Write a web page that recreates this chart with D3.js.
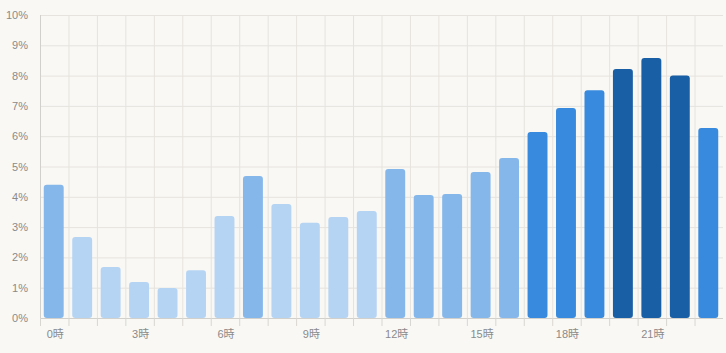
<!DOCTYPE html>
<html>
<head>
<meta charset="utf-8">
<script src="https://cdn.jsdelivr.net/npm/d3@7"></script>
<style>
	body { margin: 0; background: #f9f8f5; }
	svg { display: block; }
	svg text { fill: #8a8a8a; font-size: 11px; font-family: "Liberation Sans", Arial, "Noto Sans CJK JP", sans-serif; }
</style>
</head>
<body>
<svg id="chart" width="726" height="353"></svg>
<script>
// hour of day, share of total (%)
let hours = d3.range(24);
let shares = [4.4, 2.67, 1.68, 1.19, 0.99, 1.58, 3.37, 4.69, 3.76, 3.14, 3.33, 3.53,
	4.92, 4.06, 4.09, 4.82, 5.28, 6.14, 6.93, 7.52, 8.22, 8.58, 8.0, 6.27];
let yTicks = d3.range(0, 11);
let xLabelHours = [0, 3, 6, 9, 12, 15, 18, 21];

function drawBars(holder){
	let margin = {"left": 40, "top": 15, "bottom": 35, "right": 3};
	let width = 726;
	let height = 353;

	let data = hours.map((h, i) => ({hour: h, value: shares[i]}));

	let scaleX = d3.scaleBand()
		.domain(hours)
		.range([margin.left, width - margin.right])
		.paddingInner(0.3)
		.paddingOuter(0.15);

	let scaleY = d3.scaleLinear()
		.domain([0, 10])
		.range([height - margin.bottom, margin.top]);

	let colour = d3.scaleThreshold()
		.domain([4, 6, 8])
		.range(["#b5d4f4", "#85b7eb", "#378add", "#185fa5"]);

	let svg = d3.select(holder);
	let step = scaleX.step();
	let x0 = scaleX.range()[0];

	// vertical grid at band edges
	svg.append("g").selectAll("line")
		.data(d3.range(1, 24))
		.join("line")
		.attr("x1", d => x0 + d * step + 0.5)
		.attr("x2", d => x0 + d * step + 0.5)
		.attr("y1", margin.top)
		.attr("y2", height - margin.bottom)
		.attr("stroke", "#e6e3de");

	// horizontal grid + y labels
	let axisY = svg.append("g")
		.attr("transform", "translate(" + margin.left + ",0)")
		.call(d3.axisLeft(scaleY).tickValues(yTicks).tickFormat(d => d + "%").tickSize(-(width - margin.left - margin.right)).tickPadding(12));
	axisY.select(".domain").remove();
	axisY.attr("font-family", null).attr("font-size", null);
	axisY.selectAll(".tick line").attr("stroke", "#e6e3de");

	// left axis line
	svg.append("line")
		.attr("x1", margin.left + 0.5).attr("x2", margin.left + 0.5)
		.attr("y1", margin.top).attr("y2", height - margin.bottom)
		.attr("stroke", "#d2d0cc");

	svg.append("g").selectAll("rect")
		.data(data)
		.join("rect")
		.attr("x", d => scaleX(d.hour) - 0.5)
		.attr("y", d => scaleY(d.value))
		.attr("width", scaleX.bandwidth())
		.attr("height", d => scaleY(0) - scaleY(d.value))
		.attr("rx", 3)
		.attr("fill", d => colour(d.value));

	// x axis
	let base = scaleY(0);
	svg.append("line")
		.attr("x1", margin.left).attr("x2", width - margin.right)
		.attr("y1", base + 0.5).attr("y2", base + 0.5)
		.attr("stroke", "#d2d0cc");

	svg.append("g").selectAll("line")
		.data(d3.range(0, 24))
		.join("line")
		.attr("x1", d => x0 + d * step + 0.5)
		.attr("x2", d => x0 + d * step + 0.5)
		.attr("y1", base)
		.attr("y2", base + 8)
		.attr("stroke", "#d8d6d1");

	svg.append("g").selectAll("text")
		.data(xLabelHours)
		.join("text")
		.attr("x", d => scaleX(d) + scaleX.bandwidth() / 2 + 1)
		.attr("y", base + 20)
		.attr("text-anchor", "middle")
		.text(d => d + "時");
}

drawBars("#chart");
</script>
</body>
</html>
